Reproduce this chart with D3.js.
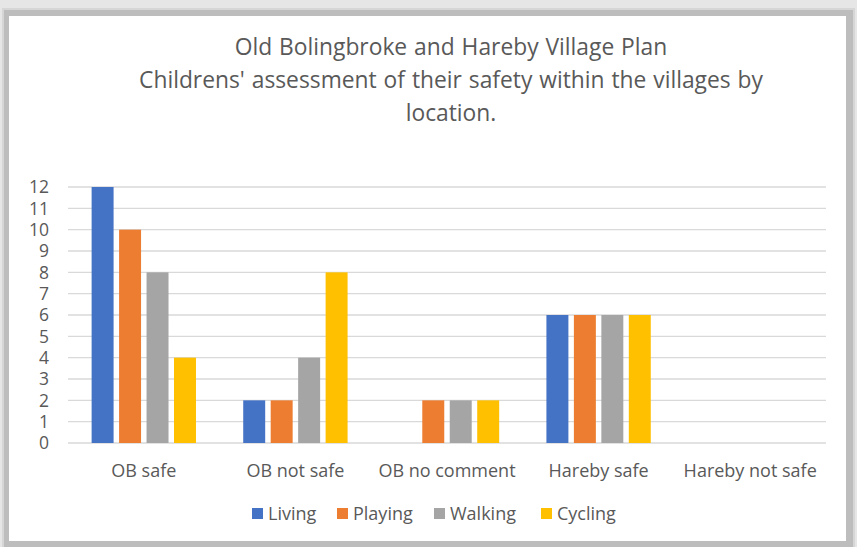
<!DOCTYPE html>
<html>
<head>
<meta charset="utf-8">
<script src="https://cdn.jsdelivr.net/npm/d3@7"></script>
<style>
  body { margin: 0; background: #e6e6e6; }
  svg { display: block; }
  text { font-family: "Open Sans", "Noto Sans", sans-serif; fill: #595959; }
</style>
</head>
<body>
<script>
var categories = ["OB safe", "OB not safe", "OB no comment", "Hareby safe", "Hareby not safe"]
var seriesNames = ["Living", "Playing", "Walking", "Cycling"]
var living = [12, 2, 0, 6, 0]
var playing = [10, 2, 2, 6, 0]
var walking = [8, 4, 2, 6, 0]
var cycling = [4, 8, 2, 6, 0]
var yTicks = [0, 1, 2, 3, 4, 5, 6, 7, 8, 9, 10, 11, 12]
var titleLines = ["Old Bolingbroke and Hareby Village Plan",
    "Childrens' assessment of their safety within the villages by",
    "location."]

var colors = ["#4472c4", "#ed7d31", "#a5a5a5", "#ffc000"]
var seriesValues = [living, playing, walking, cycling]

var width = 857
var height = 547

var svg = d3.select("body")
    .append("svg")
    .attr("width", width)
    .attr("height", height)

// card with a soft shadow frame
svg.append("rect")
    .attr("x", 2).attr("y", 8)
    .attr("width", 853).attr("height", 539)
    .attr("fill", "#d6d6d6")
svg.append("rect")
    .attr("x", 4).attr("y", 10)
    .attr("width", 849).attr("height", 537)
    .attr("fill", "#bdbdbd")
svg.append("rect")
    .attr("x", 9).attr("y", 16)
    .attr("width", 837).attr("height", 525)
    .attr("fill", "white")

var x0 = d3.scaleBand()
    .domain(categories)
    .range([68, 826])

var x1 = d3.scaleBand()
    .domain(seriesNames)
    .range([0, x0.bandwidth()])
    .paddingInner(0.2)
    .paddingOuter(0.86)

var y = d3.scaleLinear()
    .domain([0, 12])
    .range([443, 187])

// gridlines
svg.append("g")
    .selectAll("line")
    .data(yTicks)
    .enter()
    .append("line")
    .attr("x1", 68)
    .attr("x2", 826)
    .attr("y1", function (d) { return y(d) })
    .attr("y2", function (d) { return y(d) })
    .attr("stroke", "#d9d9d9")
    .attr("stroke-width", 1.3)

// y tick labels
svg.append("g")
    .selectAll("text")
    .data(yTicks)
    .enter()
    .append("text")
    .attr("x", 49)
    .attr("y", function (d) { return y(d) })
    .attr("dy", "0.36em")
    .attr("text-anchor", "end")
    .style("font-size", "17.5px")
    .text(function (d) { return d })

// bars
var groups = svg.append("g")
    .selectAll("g")
    .data(categories)
    .enter()
    .append("g")
    .attr("transform", function (d) { return "translate(" + x0(d) + ",0)" })

groups.selectAll("rect")
    .data(function (d, i) {
        return seriesNames.map(function (s, j) {
            return { series: s, value: seriesValues[j][i], color: colors[j] }
        })
    })
    .enter()
    .append("rect")
    .attr("x", function (d) { return x1(d.series) })
    .attr("width", x1.bandwidth())
    .attr("y", function (d) { return y(d.value) })
    .attr("height", function (d) { return y(0) - y(d.value) })
    .attr("fill", function (d) { return d.color })

// category labels
svg.append("g")
    .selectAll("text")
    .data(categories)
    .enter()
    .append("text")
    .attr("x", function (d) { return x0(d) + x0.bandwidth() / 2 })
    .attr("y", 477)
    .attr("text-anchor", "middle")
    .style("font-size", "18px")
    .text(function (d) { return d })

// title
svg.append("g")
    .selectAll("text")
    .data(titleLines)
    .enter()
    .append("text")
    .attr("x", 451)
    .attr("y", function (d, i) { return 55 + i * 33 })
    .attr("text-anchor", "middle")
    .style("font-size", "22.8px")
    .style("word-spacing", "1px")
    .text(function (d) { return d })

// legend
var legendX = [252, 337, 434, 541]
var legend = svg.append("g")
    .selectAll("g")
    .data(seriesNames)
    .enter()
    .append("g")
    .attr("transform", function (d, i) { return "translate(" + legendX[i] + ",508)" })

legend.append("rect")
    .attr("width", 11)
    .attr("height", 11)
    .attr("fill", function (d, i) { return colors[i] })

legend.append("text")
    .attr("x", 16)
    .attr("y", 12)
    .style("font-size", "18px")
    .text(function (d) { return d })
</script>
</body>
</html>
